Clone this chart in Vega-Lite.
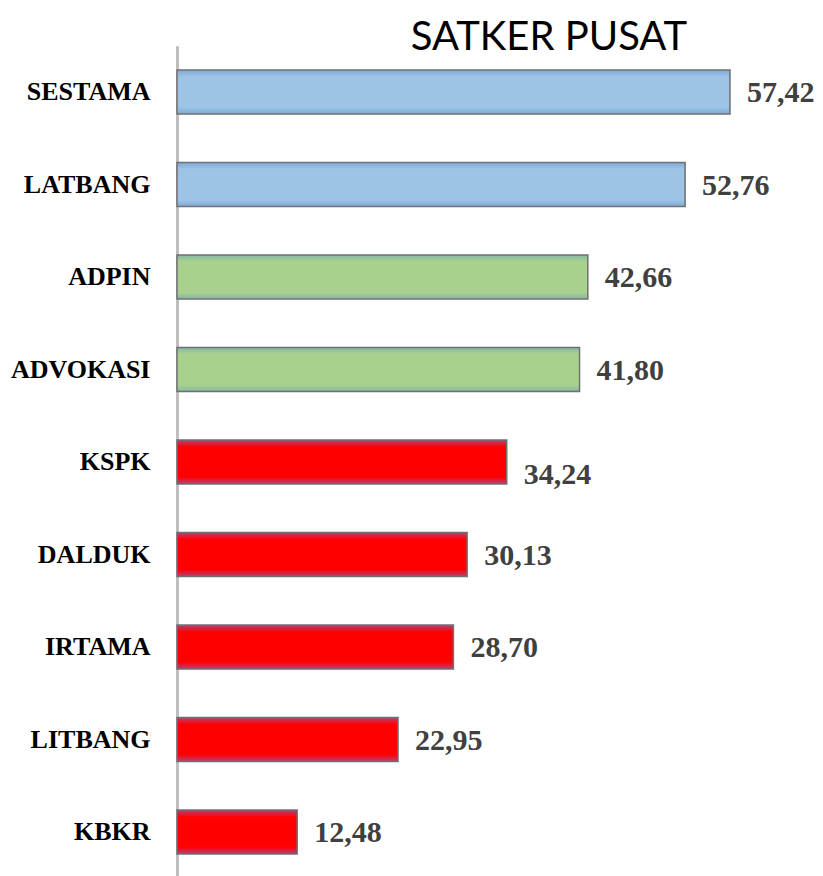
{
  "$schema": "https://vega.github.io/schema/vega-lite/v6.json",
  "width": 646,
  "height": 832.5,
  "autosize": "none",
  "padding": {"left": 177, "top": 45.75, "right": 0, "bottom": 0},
  "background": "white",
  "title": {"text": "SATKER PUSAT", "font": "Lato", "fontSize": 40, "fontWeight": "normal", "color": "#000000", "anchor": "middle", "dx": 49, "offset": -12},
  "data": {"values": [
    {"satker": "SESTAMA", "nilai": 57.42, "kategori": "Tinggi"},
    {"satker": "LATBANG", "nilai": 52.76, "kategori": "Tinggi"},
    {"satker": "ADPIN", "nilai": 42.66, "kategori": "Sedang"},
    {"satker": "ADVOKASI", "nilai": 41.80, "kategori": "Sedang"},
    {"satker": "KSPK", "nilai": 34.24, "kategori": "Rendah"},
    {"satker": "DALDUK", "nilai": 30.13, "kategori": "Rendah"},
    {"satker": "IRTAMA", "nilai": 28.70, "kategori": "Rendah"},
    {"satker": "LITBANG", "nilai": 22.95, "kategori": "Rendah"},
    {"satker": "KBKR", "nilai": 12.48, "kategori": "Rendah"}
  ]},
  "encoding": {
    "y": {"field": "satker", "type": "nominal", "sort": null,
      "scale": {"domain": ["SESTAMA", "LATBANG", "ADPIN", "ADVOKASI", "KSPK", "DALDUK", "IRTAMA", "LITBANG", "KBKR"], "paddingInner": 0.524, "paddingOuter": 0.262},
      "axis": {"title": null, "ticks": false, "grid": false, "labelFont": "Liberation Serif", "labelFontSize": 26, "labelFontWeight": "bold", "labelColor": "#000000", "labelPadding": 27, "domainColor": "#BFBFBF", "domainWidth": 3}},
    "x": {"field": "nilai", "type": "quantitative", "scale": {"domain": [0, 67.08], "nice": false}, "axis": null}
  },
  "layer": [
    {"transform": [{"filter": "datum.kategori === 'Tinggi'"}],
     "mark": {"type": "bar", "stroke": "#707070", "strokeWidth": 1.5,
       "color": {"gradient": "linear", "x1": 0, "y1": 0, "x2": 0, "y2": 1, "stops": [
         {"offset": 0, "color": "#7EAAD6"}, {"offset": 0.15, "color": "#9DC3E6"}, {"offset": 0.85, "color": "#9DC3E6"}, {"offset": 1, "color": "#7EAAD6"}]}}},
    {"transform": [{"filter": "datum.kategori === 'Sedang'"}],
     "mark": {"type": "bar", "stroke": "#707070", "strokeWidth": 1.5,
       "color": {"gradient": "linear", "x1": 0, "y1": 0, "x2": 0, "y2": 1, "stops": [
         {"offset": 0, "color": "#86B6A6"}, {"offset": 0.15, "color": "#A9D18E"}, {"offset": 0.85, "color": "#A9D18E"}, {"offset": 1, "color": "#86B6A6"}]}}},
    {"transform": [{"filter": "datum.kategori === 'Rendah'"}],
     "mark": {"type": "bar", "stroke": "#707070", "strokeWidth": 1.5,
       "color": {"gradient": "linear", "x1": 0, "y1": 0, "x2": 0, "y2": 1, "stops": [
         {"offset": 0, "color": "#B8407A"}, {"offset": 0.16, "color": "#FF0000"}, {"offset": 0.84, "color": "#FF0000"}, {"offset": 1, "color": "#B8407A"}]}}},
    {"transform": [{"filter": "datum.satker !== 'KSPK'"}],
     "mark": {"type": "text", "align": "left", "baseline": "middle", "dx": 17, "dy": 1, "font": "Liberation Serif", "fontSize": 30, "fontWeight": "bold", "color": "#404040"},
     "encoding": {"text": {"field": "nilai", "type": "quantitative", "format": ".2f"}}},
    {"transform": [{"filter": "datum.satker === 'KSPK'"}],
     "mark": {"type": "text", "align": "left", "baseline": "middle", "dx": 17, "dy": 13, "font": "Liberation Serif", "fontSize": 30, "fontWeight": "bold", "color": "#404040"},
     "encoding": {"text": {"field": "nilai", "type": "quantitative", "format": ".2f"}}}
  ],
  "config": {
    "view": {"stroke": null},
    "locale": {"number": {"decimal": ",", "thousands": ".", "grouping": [3], "currency": ["Rp", ""]}}
  }
}
